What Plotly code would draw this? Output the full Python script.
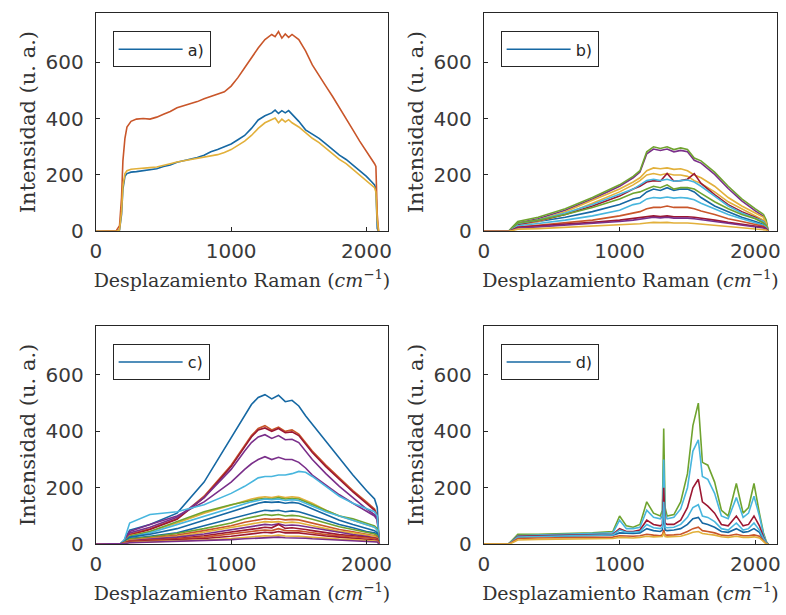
import plotly.graph_objects as go

# ---------------- data ----------------
# panel a)
xa = [0, 100, 150, 175, 190, 200, 215, 230, 260, 300, 350, 400, 450, 500, 550, 600, 650, 700,
      750, 800, 850, 900, 950, 1000, 1050, 1100, 1150, 1200, 1250, 1300, 1325, 1350, 1375,
      1400, 1425, 1450, 1500, 1550, 1600, 1650, 1700, 1750, 1800, 1850, 1900, 1950, 2000,
      2040, 2060, 2070, 2080, 2090]
a_blue = [0, 0, 0, 5, 60, 150, 195, 205, 210, 212, 215, 220, 222, 230, 235, 245, 250, 255,
          262, 270, 282, 290, 300, 310, 325, 340, 365, 395, 410, 420, 430, 418, 428,
          420, 428, 415, 390, 360, 345, 330, 310, 290, 270, 255, 235, 215, 195,
          175, 165, 150, 10, 0]
a_orange = [0, 0, 2, 20, 120, 250, 330, 370, 390, 398, 400, 398, 405, 415, 425, 438, 445, 452,
            460, 470, 478, 488, 495, 515, 545, 580, 615, 650, 680, 698, 690, 708, 685,
            700, 688, 698, 680, 640, 590, 550, 515, 478, 440, 400, 360, 320, 285,
            255, 240, 230, 60, 0]
a_yellow = [0, 0, 0, 5, 70, 160, 205, 215, 220, 222, 225, 226, 228, 235, 240, 246, 250, 255,
            258, 262, 268, 272, 280, 290, 305, 320, 340, 365, 385, 395, 402, 385, 398,
            388, 396, 385, 370, 350, 330, 315, 295, 275, 255, 240, 220, 200, 180,
            165, 155, 140, 40, 0]

# panels b) and c)
xbc = [0, 180, 210, 250, 400, 600, 800, 1000, 1100, 1150, 1200, 1250, 1300, 1350, 1400,
       1450, 1500, 1550, 1600, 1700, 1800, 1900, 2000, 2060, 2080, 2095]

b_series = [
    [0, 0, 8, 25, 35, 50, 70, 95, 115, 120, 140, 150, 145, 155, 145, 150, 150, 140, 120, 90, 70, 50, 35, 25, 15, 0],
    [0, 0, 12, 30, 45, 75, 115, 160, 190, 210, 275, 292, 287, 292, 282, 287, 282, 252, 242, 202, 152, 108, 73, 53, 33, 0],
    [0, 0, 15, 35, 50, 80, 120, 165, 195, 215, 282, 300, 294, 300, 290, 296, 290, 260, 250, 210, 160, 115, 80, 60, 40, 0],
    [0, 0, 10, 25, 40, 70, 110, 150, 175, 190, 215, 225, 222, 225, 220, 222, 215, 200, 190, 160, 120, 90, 65, 50, 30, 0],
    [0, 0, 8, 22, 35, 62, 100, 140, 165, 180, 200, 205, 200, 205, 200, 200, 195, 180, 170, 140, 105, 80, 55, 40, 25, 0],
    [0, 0, 10, 25, 38, 60, 90, 125, 150, 160, 175, 180, 178, 205, 178, 180, 185, 205, 170, 130, 95, 70, 50, 35, 20, 0],
    [0, 0, 10, 28, 40, 65, 95, 130, 150, 165, 180, 185, 180, 185, 178, 180, 182, 175, 160, 125, 90, 65, 45, 35, 20, 0],
    [0, 0, 10, 30, 40, 60, 85, 115, 135, 140, 150, 160, 155, 165, 150, 155, 155, 150, 135, 105, 80, 60, 45, 30, 20, 0],
    [0, 0, 7, 20, 28, 40, 55, 75, 95, 100, 115, 120, 118, 122, 118, 120, 118, 112, 100, 80, 60, 45, 32, 22, 15, 0],
    [0, 0, 5, 15, 22, 30, 40, 55, 65, 70, 80, 85, 85, 90, 85, 85, 85, 80, 72, 60, 45, 35, 25, 18, 10, 0],
    [0, 0, 5, 15, 20, 25, 32, 40, 45, 48, 52, 55, 53, 55, 52, 53, 52, 50, 47, 40, 32, 25, 20, 15, 10, 0],
    [0, 0, 4, 12, 16, 22, 28, 35, 40, 43, 47, 50, 48, 50, 47, 48, 47, 45, 42, 36, 28, 22, 17, 12, 8, 0],
    [0, 0, 3, 8, 10, 14, 18, 22, 25, 27, 30, 32, 31, 32, 30, 31, 30, 28, 26, 22, 18, 14, 10, 8, 5, 0],
]
b_colors = [0, 3, 4, 2, 2, 6, 5, 4, 5, 1, 6, 3, 2]

c_series = [
    [0, 0, 15, 50, 70, 110, 220, 380, 460, 495, 520, 530, 515, 528, 505, 510, 490, 455, 425, 365, 305, 245, 190, 160, 130, 0],
    [0, 0, 10, 35, 55, 90, 170, 280, 350, 385, 410, 420, 405, 415, 400, 405, 390, 360, 330, 280, 235, 190, 150, 125, 100, 0],
    [0, 0, 10, 32, 52, 88, 165, 275, 345, 380, 405, 412, 400, 410, 395, 398, 385, 355, 325, 275, 230, 185, 145, 120, 95, 0],
    [0, 0, 12, 40, 60, 95, 165, 265, 330, 360, 380, 388, 375, 385, 370, 372, 360, 330, 300, 250, 205, 165, 125, 105, 90, 0],
    [0, 0, 12, 45, 70, 100, 150, 220, 265, 285, 300, 310, 300, 308, 300, 300, 290, 270, 245, 210, 175, 145, 115, 100, 85, 0],
    [0, 0, 15, 75, 105, 115, 140, 180, 205, 220, 235, 240, 240, 245, 245, 250, 258, 255, 240, 205, 170, 145, 125, 115, 100, 0],
    [0, 0, 8, 30, 45, 75, 110, 140, 155, 160, 165, 168, 165, 170, 165, 168, 165, 155, 145, 120, 100, 85, 70, 60, 50, 0],
    [0, 0, 8, 28, 45, 80, 115, 140, 150, 155, 160, 162, 160, 165, 160, 162, 160, 150, 140, 120, 100, 90, 75, 65, 55, 0],
    [0, 0, 8, 25, 40, 70, 100, 130, 145, 150, 155, 160, 158, 160, 155, 158, 155, 145, 135, 115, 100, 85, 70, 60, 50, 0],
    [0, 0, 8, 25, 35, 55, 85, 115, 130, 140, 145, 150, 148, 150, 145, 148, 145, 135, 125, 105, 85, 70, 55, 48, 40, 0],
    [0, 0, 6, 20, 28, 40, 65, 90, 105, 110, 115, 120, 118, 120, 115, 118, 115, 108, 100, 85, 70, 58, 45, 40, 35, 0],
    [0, 0, 6, 18, 25, 38, 55, 75, 90, 95, 100, 105, 102, 105, 100, 102, 100, 95, 88, 75, 62, 52, 42, 36, 30, 0],
    [0, 0, 5, 15, 22, 32, 48, 65, 78, 82, 86, 90, 88, 90, 86, 88, 86, 80, 74, 62, 52, 44, 36, 30, 25, 0],
    [0, 0, 5, 14, 20, 28, 42, 58, 68, 72, 76, 80, 78, 80, 76, 78, 76, 70, 65, 55, 46, 40, 33, 28, 22, 0],
    [0, 0, 5, 12, 18, 25, 36, 50, 58, 62, 66, 70, 68, 72, 66, 68, 66, 62, 56, 48, 40, 34, 28, 24, 20, 0],
    [0, 0, 4, 10, 15, 20, 30, 42, 50, 53, 56, 60, 58, 70, 56, 58, 56, 52, 48, 40, 34, 30, 25, 22, 18, 0],
    [0, 0, 4, 10, 14, 18, 25, 35, 42, 45, 48, 50, 48, 55, 48, 48, 47, 44, 40, 34, 30, 26, 22, 20, 16, 0],
    [0, 0, 3, 8, 12, 15, 20, 28, 34, 36, 39, 42, 40, 45, 40, 40, 40, 37, 34, 29, 25, 22, 19, 17, 14, 0],
    [0, 0, 3, 6, 9, 11, 15, 20, 24, 26, 28, 30, 29, 32, 29, 29, 28, 26, 24, 21, 18, 16, 14, 12, 10, 0],
    [0, 0, 2, 5, 7, 9, 12, 16, 19, 20, 22, 24, 23, 25, 23, 23, 22, 21, 19, 17, 15, 13, 11, 10, 8, 0],
]
c_colors = [0, 1, 6, 3, 3, 5, 2, 4, 5, 0, 0, 4, 1, 2, 3, 6, 1, 6, 2, 3]

# panel d)
xd = [0, 180, 210, 250, 400, 600, 800, 950, 1000, 1050, 1100, 1150, 1200, 1250, 1300, 1315,
      1325, 1335, 1350, 1400, 1450, 1500, 1540, 1580, 1610, 1650, 1700, 1750, 1800, 1860,
      1910, 1950, 1990, 2030, 2060, 2080, 2095]
d_series = [
    [0, 0, 10, 25, 27, 28, 30, 32, 40, 38, 38, 40, 55, 48, 45, 50, 110, 50, 48, 50, 55, 70, 90, 95, 75, 70, 60, 45, 42, 55, 42, 45, 55, 42, 15, 3, 0],
    [0, 0, 15, 35, 35, 38, 40, 45, 100, 65, 60, 70, 150, 110, 100, 120, 410, 130, 100, 105, 150, 250, 420, 500, 290, 280, 220, 120, 100, 215, 110, 130, 215, 110, 40, 10, 0],
    [0, 0, 12, 30, 32, 35, 37, 40, 85, 55, 55, 60, 120, 95, 90, 100, 300, 110, 90, 95, 125, 200, 330, 370, 240, 230, 180, 100, 90, 165, 95, 110, 170, 100, 35, 8, 0],
    [0, 0, 10, 28, 30, 32, 33, 35, 55, 45, 45, 50, 85, 70, 65, 70, 200, 75, 70, 70, 85, 130, 200, 230, 150, 135, 110, 70, 65, 100, 65, 70, 100, 65, 25, 5, 0],
    [0, 0, 10, 25, 27, 30, 32, 33, 50, 42, 42, 45, 70, 58, 55, 60, 150, 60, 58, 60, 70, 95, 130, 140, 100, 95, 80, 55, 50, 75, 50, 55, 75, 50, 20, 5, 0],
    [0, 0, 8, 20, 22, 23, 24, 25, 30, 28, 28, 30, 35, 32, 30, 33, 50, 33, 32, 33, 35, 45, 55, 60, 48, 45, 40, 32, 30, 35, 30, 30, 33, 28, 10, 2, 0],
    [0, 0, 5, 15, 17, 18, 19, 20, 24, 22, 22, 24, 28, 26, 25, 27, 40, 27, 26, 27, 28, 35, 42, 45, 38, 35, 32, 26, 24, 28, 24, 24, 26, 22, 8, 1, 0],
]
d_colors = [0, 4, 5, 6, 5, 1, 2]

legend_labels = ["a)", "b)", "c)", "d)"]
x_ticks = [0, 1000, 2000]
y_ticks = [0, 200, 400, 600]
x_title = "Desplazamiento Raman (<i>cm</i><sup>\u22121</sup>)"
y_title = "Intensidad (u. a.)"

palette = ["#1668a3", "#c9562a", "#e2b03a", "#7a2f8a", "#6fa32f", "#48b6de", "#9c1832"]

# ---------------- layout geometry ----------------
W, H = 786, 615
panels = [  # left, right, top, bottom in px
    (91, 387, 13, 236),
    (484, 781, 13, 236),
    (91, 387, 332, 555),
    (484, 781, 332, 555),
]

fig = go.Figure()


def add(panel, x, y, color, legend_on, width=1.6):
    suffix = "" if panel == 0 else str(panel + 1)
    fig.add_trace(go.Scatter(
        x=x, y=y, mode="lines",
        line=dict(color=color, width=width),
        xaxis="x" + suffix, yaxis="y" + suffix,
        name=legend_labels[panel], showlegend=legend_on,
        legend="legend" + suffix,
    ))


# a
add(0, xa, a_blue, palette[0], True)
add(0, xa, a_orange, palette[1], False)
add(0, xa, a_yellow, palette[2], False)
# b
for i, (s, c) in enumerate(zip(b_series, b_colors)):
    add(1, xbc, s, palette[c], i == 0)
# c
for i, (s, c) in enumerate(zip(c_series, c_colors)):
    add(2, xbc, s, palette[c], i == 0)
# d
for i, (s, c) in enumerate(zip(d_series, d_colors)):
    add(3, xd, s, palette[c], i == 0)

axis_color = "#262626"
tick_font = dict(family="DejaVu Sans", size=20, color="#3a3a3a")
x_title_font = dict(family="DejaVu Serif", size=19, color="#333333")
y_title_font = dict(family="DejaVu Serif", size=21, color="#333333")

layout = dict(
    width=W, height=H,
    margin=dict(l=0, r=0, t=0, b=0),
    paper_bgcolor="white", plot_bgcolor="white",
    showlegend=True,
)
for i, (l, r, t, b) in enumerate(panels):
    suffix = "" if i == 0 else str(i + 1)
    layout["xaxis" + suffix] = dict(
        domain=[l / W, r / W], anchor="y" + suffix,
        range=[0, 2160], tickvals=x_ticks, ticktext=[str(v) for v in x_ticks],
        showline=True, mirror=True, linecolor=axis_color, linewidth=1.2,
        ticks="inside", ticklen=4, tickcolor=axis_color,
        showgrid=False, zeroline=False, tickfont=tick_font,
        ticklabelstandoff=2,
        title=dict(text=x_title, font=x_title_font, standoff=11),
    )
    layout["yaxis" + suffix] = dict(
        domain=[1 - b / H, 1 - t / H], anchor="x" + suffix,
        range=[0, 775], tickvals=y_ticks, ticktext=[str(v) for v in y_ticks],
        showline=True, mirror=True, linecolor=axis_color, linewidth=1.2,
        ticks="inside", ticklen=4, tickcolor=axis_color,
        showgrid=False, zeroline=False, tickfont=tick_font,
        ticklabelstandoff=7,
        title=dict(text=y_title, font=y_title_font, standoff=4),
    )
    layout["legend" + suffix] = dict(
        x=(l + 17) / W, y=1 - (t + 19) / H, xref="paper", yref="paper",
        xanchor="left", yanchor="top",
        bgcolor="white", bordercolor=axis_color, borderwidth=1,
        font=dict(family="DejaVu Sans", size=16, color="#262626"),
        itemwidth=64, tracegroupgap=0,
    )

fig.update_layout(**layout)
fig.write_html(
    "out.html",
    config={"displayModeBar": False},
    post_script=(
        "document.body.style.margin='0';"
        "document.body.style.overflow='hidden';"
        "document.documentElement.style.overflow='hidden';"
    ),
)
